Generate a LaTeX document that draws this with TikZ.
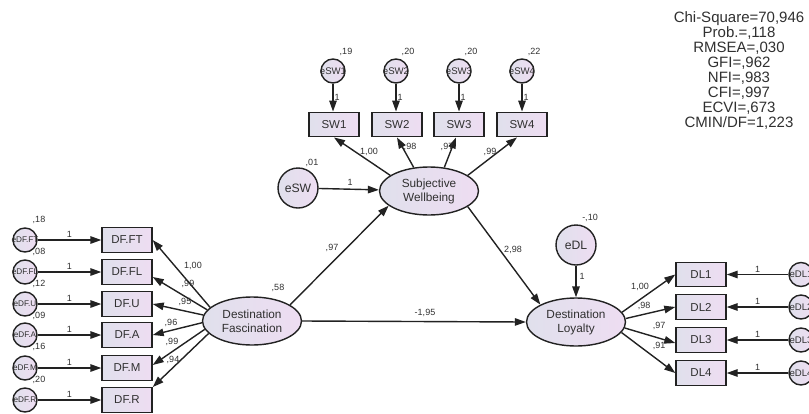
\documentclass[tikz,border=0pt]{standalone}
\usepackage{fontspec}
\setmainfont{Liberation Sans}
\usetikzlibrary{arrows.meta,shapes.geometric}
\definecolor{lnc}{HTML}{222222}
\definecolor{txc}{HTML}{303030}
\definecolor{fl}{HTML}{E0E0EC}
\definecolor{fr}{HTML}{EEDDF2}
\tikzset{
 obs/.style={draw=lnc, line width=1.4pt, left color=fl, right color=fr, minimum width=50pt, minimum height=24.5pt, inner sep=0pt, font=\fontsize{11.5}{12}\selectfont, text=txc},
 lat/.style={ellipse, draw=lnc, line width=1.4pt, left color=fl, right color=fr, minimum width=99pt, minimum height=48pt, inner sep=0pt, align=center, font=\fontsize{11.8}{14}\selectfont, text=txc},
 err/.style={circle, draw=lnc, line width=1.4pt, left color=fl, right color=fr, minimum size=24pt, inner sep=0pt},
 errtxt/.style={font=\fontsize{8.2}{9}\selectfont, text=txc, inner sep=0pt},
 errtxtb/.style={font=\fontsize{9.6}{10}\selectfont, text=txc, inner sep=0pt},
 bigerr/.style={err, minimum size=40pt, font=\fontsize{12.2}{13}\selectfont, text=txc},
 num/.style={font=\fontsize{9}{10}\selectfont, text=txc, inner sep=0.5pt},
 arr/.style={draw=lnc, line width=1.4pt, -{Triangle[length=11pt,width=7.5pt]}},
 fit/.style={font=\fontsize{15}{15}\selectfont, text=txc, align=center, inner sep=0pt},
}
\begin{document}
\begin{tikzpicture}[x=1pt,y=-1pt]
\useasboundingbox (0,0) rectangle (809,413);
\clip (0,0) rectangle (809,413);

% latent variables
\node[lat] (df) at (252,321) {Destination\\Fascination};
\node[lat] (sw) at (429,191) {Subjective\\Wellbeing};
\node[lat] (dl) at (576,322) {Destination\\Loyalty};

% disturbance terms
\node[bigerr] (esw) at (298,188) {eSW};
\node[bigerr] (edl) at (576,245) {eDL};

% DF indicators
\foreach \nm/\lb/\er/\y/\vy/\v in {ft/DF.FT/eDF.FT/240/220/{,18}, fl/DF.FL/eDF.FL/272/252/{,08}, u/DF.U/eDF.U/304/284/{,12}, a/DF.A/eDF.A/335/316/{,09}, m/DF.M/eDF.M/368/347/{,16}, r/DF.R/eDF.R/400/380/{,20}}{
  \node[obs] (\nm) at (127,\y) {\lb};
  \node[err, label={[errtxt]center:\er}] (e\nm) at (25,\y) {};
  \node[num] (v\nm) at (39,\vy) {\v};
  \draw[arr] (e\nm) -- (\nm) node[num, pos=0.5, above=1pt] {1};
}

% SW indicators
\foreach \nm/\x/\ex/\vx/\v in {1/334/333/346/{,19}, 2/397/396/408/{,20}, 3/459/459/471/{,20}, 4/522/522/534/{,22}}{
  \node[obs] (sw\nm) at (\x,124.5) {SW\nm};
  \node[err, label={[errtxtb]center:eSW\nm}] (esw\nm) at (\ex,71) {};
  \node[num] (vsw\nm) at (\vx,52) {\v};
  \draw[arr] (esw\nm) -- (esw\nm |- sw\nm.north) node[num, midway, right=0.5pt] {1};
}

% DL indicators
\foreach \nm/\y in {1/274.5, 2/307, 3/340, 4/373}{
  \node[obs] (dl\nm) at (701,\y) {DL\nm};
  \node[err, label={[errtxtb]center:eDL\nm}] (edl\nm) at (801,\y) {};
  \draw[arr] (edl\nm) -- (dl\nm) node[num, pos=0.5, above=1pt] {1};
}

% DF loadings
\draw[arr] (df.162) -- (ft.east);
\draw[arr] (df.166) -- ([yshift=-5pt]fl.east);
\draw[arr] (df.173) -- (u.east);
\draw[arr] (df.182) -- (a.east);
\draw[arr] (df.190) -- ([yshift=3pt]m.east);
\draw[arr] (df.196) -- (r.north east);
\node[num] (l1) at (193,266) {1,00};
\node[num] (l2) at (188,284) {,99};
\node[num] (l3) at (185,302) {,95};
\node[num] (l4) at (171,323) {,96};
\node[num] (l5) at (172,342) {,99};
\node[num] (l6) at (173,360) {,94};

% SW loadings
\draw[arr] (sw.158) -- (sw1.south);
\draw[arr] (sw.123) -- (sw2.south);
\draw[arr] (sw.57) -- ([xshift=-3pt]sw3.south);
\draw[arr] (sw.22) -- ([xshift=-5pt]sw4.south);
\node[num] (s1) at (369,152) {1,00};
\node[num] (s2) at (410,147) {,98};
\node[num] (s3) at (447,147) {,97};
\node[num] (s4) at (490,152) {,99};

% DL loadings
\draw[arr] (dl.12) -- (dl1.west);
\draw[arr] (dl.4) -- (dl2.west);
\draw[arr] (dl.353) -- ([yshift=-3pt]dl3.west);
\draw[arr] (dl.347) -- (dl4.west);
\node[num] (d1) at (640,287) {1,00};
\node[num] (d2) at (644,306) {,98};
\node[num] (d3) at (659,326) {,97};
\node[num] (d4) at (659,346) {,91};

% structural paths
\draw[arr] (esw) -- (sw);
\node[num] (esw1l) at (350,182) {1};
\draw[arr] (df.23) -- (sw.200);
\node[num] (p1) at (332,248) {,97};
\draw[arr] (sw.338) -- (dl.154);
\node[num] (p2) at (513,250) {2,98};
\draw[arr] (df.east) -- (dl.west);
\node[num] (p3) at (425,313) {-1,95};
\draw[arr] (edl) -- (dl);
\node[num] (edl1l) at (582,276) {1};

% variances
\node[num] (vdf) at (278,288) {,58};
\node[num] (vsw) at (312,163) {,01};
\node[num] (vdl) at (590,218) {-,10};

% fit indices
\node[fit] (fitbox) at (739,70.5) {Chi-Square=70,946\\Prob.=,118\\RMSEA=,030\\GFI=,962\\NFI=,983\\CFI=,997\\ECVI=,673\\CMIN/DF=1,223};
\end{tikzpicture}
\end{document}
